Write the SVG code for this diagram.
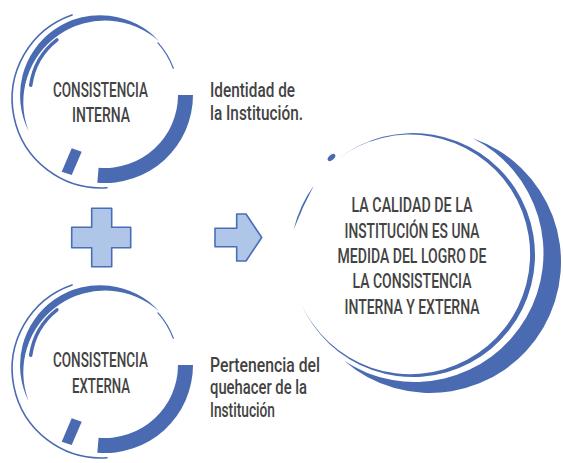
<svg xmlns="http://www.w3.org/2000/svg" xmlns:xlink="http://www.w3.org/1999/xlink" width="563" height="463" viewBox="0 0 563 463">
  <style>
    .blue { fill: #4A6BB2; }
    .thin { fill: none; stroke: #4A6BB2; stroke-linecap: round; }
    .txt { font-family: Roboto, "Liberation Sans", sans-serif; font-size: 20.5px; font-weight: 500; fill: #434343; }
    .mid { text-anchor: middle; }
    .op { fill: #AFC6E8; stroke: #4A6DB8; stroke-width: 1.6; stroke-linejoin: round; }
  </style>
  <defs>
    <g id="ringDeco">
      <!-- outer thin arc -->
      <path class="thin" stroke-width="1.6" d="M 72 14.9 A 89 89 0 0 0 107 187.8"/>
      <!-- left/top tapered band -->
      <path class="blue" d="M 28.7 131.3 A 80 80 0 0 1 159.4 41.5 A 81.56 81.56 0 0 0 28.7 131.3 Z"/>
      <!-- thin continuation top right -->
      <path class="thin" stroke-width="1.2" d="M 158 42.8 A 78 78 0 0 1 173.3 68.3"/>
      <!-- inner short arc -->
      <path class="thin" stroke-width="3.5" stroke-linecap="butt" d="M 30.7 85.3 A 70 70 0 0 1 56.9 39.8"/>
      <!-- bottom-right thick band -->
      <path class="blue" d="M 193 95 A 88 88 0 0 1 97.3 182.7 L 98.6 167.7 A 73 73 0 0 0 178 95 Z"/>
      <!-- small block -->
      <polygon class="blue" points="71.7,148.3 81.7,151.7 71.7,175 61.7,171.7"/>
    </g>
  </defs>

  <g id="node-interna">
    <use xlink:href="#ringDeco"/>
    <text class="txt mid" x="100.5" y="97" textLength="95" lengthAdjust="spacingAndGlyphs">CONSISTENCIA</text>
    <text class="txt mid" x="101" y="122" textLength="58" lengthAdjust="spacingAndGlyphs">INTERNA</text>
  </g>

  <g id="label-interna">
    <text class="txt" x="210" y="97" textLength="85" lengthAdjust="spacingAndGlyphs">Identidad de</text>
    <text class="txt" x="210" y="120" textLength="93" lengthAdjust="spacingAndGlyphs">la Institución.</text>
  </g>

  <g id="node-externa">
    <use xlink:href="#ringDeco" transform="translate(0,270)"/>
    <text class="txt mid" x="100.5" y="367" textLength="95" lengthAdjust="spacingAndGlyphs">CONSISTENCIA</text>
    <text class="txt mid" x="101" y="393" textLength="58" lengthAdjust="spacingAndGlyphs">EXTERNA</text>
  </g>

  <g id="label-externa">
    <text class="txt" x="210" y="371.5" textLength="110" lengthAdjust="spacingAndGlyphs">Pertenencia del</text>
    <text class="txt" x="210" y="394" textLength="97" lengthAdjust="spacingAndGlyphs">quehacer de la</text>
    <text class="txt" x="210" y="416.5" textLength="65" lengthAdjust="spacingAndGlyphs">Institución</text>
  </g>

  <g id="connectors">
    <polygon id="plus" class="op" points="91.7,208.3 111.7,208.3 111.7,227.3 130.7,227.3 130.7,247.7 111.7,247.7 111.7,266.7 91.7,266.7 91.7,247.7 71.7,247.7 71.7,227.3 91.7,227.3"/>
    <polygon id="arrow" class="op" points="215,228.3 236.7,228.3 236.7,214 246,214 261.7,237.5 246,261 236.7,261 236.7,246.7 215,246.7"/>
  </g>

  <g id="node-result">
    <!-- outer crescent -->
    <path class="blue" d="M 472.65 138.14 A 131 131 0 1 1 344.06 360.87 A 128.8 128.8 0 1 0 472.65 138.14 Z"/>
    <!-- main ring -->
    <path class="blue" d="M 337.9 158.9 A 122 122 0 1 1 300.7 302.7 A 119.8 119.8 0 1 0 337.9 158.9 Z"/>
    <!-- left thin arc -->
    <path class="blue" d="M 313.9 185.6 A 121 121 0 0 0 293.7 229.6 A 400 400 0 0 1 313.9 185.6 Z"/>
    <!-- small dot -->
    <ellipse class="blue" cx="331.5" cy="157.5" rx="4.5" ry="2.5" transform="rotate(-40 331.5 157.5)"/>
    <text class="txt mid" x="412" y="211.7" textLength="121" lengthAdjust="spacingAndGlyphs">LA CALIDAD DE LA</text>
    <text class="txt mid" x="412" y="237.5" textLength="135" lengthAdjust="spacingAndGlyphs">INSTITUCIÓN ES UNA</text>
    <text class="txt mid" x="412" y="263" textLength="149" lengthAdjust="spacingAndGlyphs">MEDIDA DEL LOGRO DE</text>
    <text class="txt mid" x="412" y="288.3" textLength="119" lengthAdjust="spacingAndGlyphs">LA CONSISTENCIA</text>
    <text class="txt mid" x="412" y="313.5" textLength="135" lengthAdjust="spacingAndGlyphs">INTERNA Y EXTERNA</text>
  </g>
</svg>
